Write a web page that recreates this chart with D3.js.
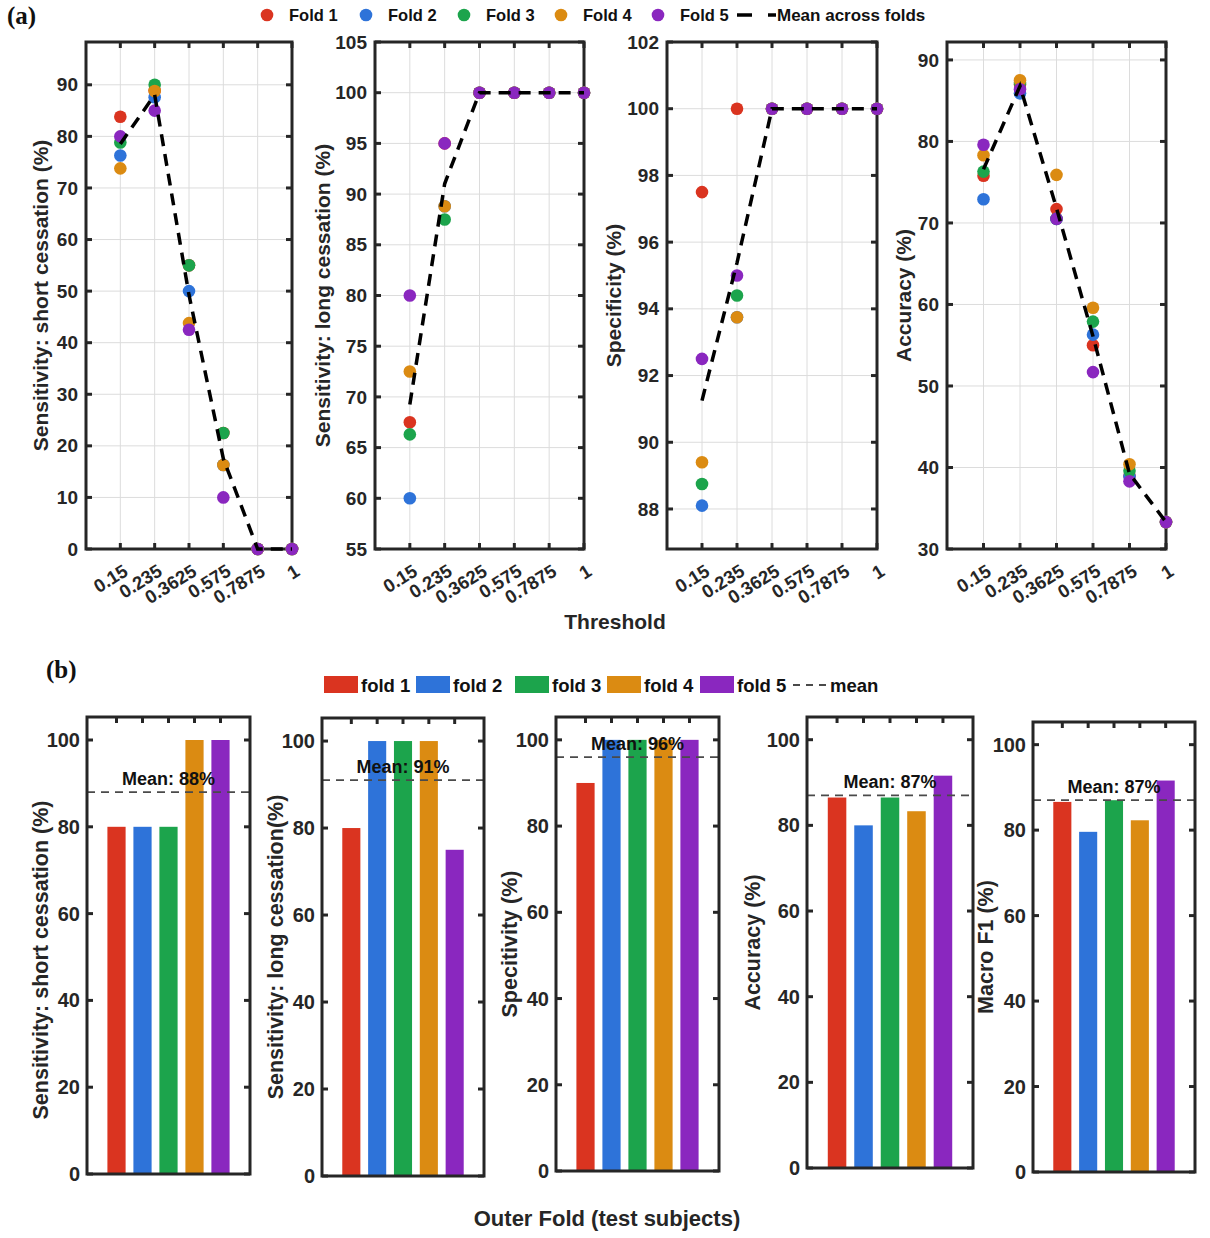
<!DOCTYPE html>
<html>
<head>
<meta charset="utf-8">
<script src="https://cdn.jsdelivr.net/npm/d3@7"></script>
<style>
  body { margin: 0; background: #fff; }
  text { font-family: "Liberation Sans", Arial, sans-serif; }
</style>
</head>
<body>
<svg id="chart" width="1210" height="1238"></svg>
<script>
// ---- data ----
var thresholds = ["0.15", "0.235", "0.3625", "0.575", "0.7875", "1"];
var foldNames = ["Fold 1", "Fold 2", "Fold 3", "Fold 4", "Fold 5"];
var foldNamesB = ["fold 1", "fold 2", "fold 3", "fold 4", "fold 5"];
var foldColors = ["#DA3420", "#2E73D9", "#1CA44C", "#DB8B12", "#8A27BF"];

// panel (a): one row per fold, one value per threshold
var sensShortA = [
    [83.8, 88.9, 55.0, 22.5, 0, 0],
    [76.3, 87.6, 50.0, 16.3, 0, 0],
    [78.8, 90.0, 55.0, 22.5, 0, 0],
    [73.8, 88.8, 43.8, 16.3, 0, 0],
    [80.0, 85.0, 42.5, 10.0, 0, 0]
];
var sensLongA = [
    [67.5, 95.0, 100, 100, 100, 100],
    [60.0, 88.8, 100, 100, 100, 100],
    [66.3, 87.5, 100, 100, 100, 100],
    [72.5, 88.8, 100, 100, 100, 100],
    [80.0, 95.0, 100, 100, 100, 100]
];
var specA = [
    [97.5, 100, 100, 100, 100, 100],
    [88.1, 93.75, 100, 100, 100, 100],
    [88.75, 94.4, 100, 100, 100, 100],
    [89.4, 93.75, 100, 100, 100, 100],
    [92.5, 95.0, 100, 100, 100, 100]
];
var accA = [
    [75.8, 87.0, 71.7, 55.0, 39.0, 33.3],
    [72.9, 85.9, 70.5, 56.3, 38.9, 33.3],
    [76.3, 87.2, 70.5, 57.9, 39.6, 33.3],
    [78.3, 87.5, 75.9, 59.6, 40.4, 33.3],
    [79.6, 86.4, 70.5, 51.7, 38.3, 33.3]
];

// panel (b): one value per outer fold
var sensShortB = [80, 80, 80, 100, 100];
var sensLongB = [80, 100, 100, 100, 75];
var specB = [90, 100, 100, 100, 100];
var accB = [86.5, 80, 86.5, 83.3, 91.6];
var macroF1B = [86.6, 79.6, 87, 82.3, 91.6];
var meanB = [88, 91, 96, 87, 87];

var svg = d3.select("#chart");
var frameColor = "#262626";

// ---------------- panel (a) ----------------
var aTop = 42, aBottom = 549;
var aPanels = [
    { data: sensShortA, label: "Sensitivity: short cessation (%)", x0: 86, x1: 292, dom: [0, 98.3], ticks: d3.range(0, 91, 10), lx: 48 },
    { data: sensLongA, label: "Sensitivity: long cessation (%)", x0: 375, x1: 584, dom: [55, 105], ticks: d3.range(55, 106, 5), lx: 330 },
    { data: specA, label: "Specificity (%)", x0: 667, x1: 877, dom: [86.8, 102], ticks: d3.range(88, 103, 2), lx: 621 },
    { data: accA, label: "Accuracy (%)", x0: 947, x1: 1166, dom: [30, 92.2], ticks: d3.range(30, 91, 10), lx: 911 }
];

aPanels.forEach(function(p)
{
    var x = d3.scaleLinear().domain([0, thresholds.length]).range([p.x0, p.x1]);
    var y = d3.scaleLinear().domain(p.dom).range([aBottom, aTop]);
    var g = svg.append("g");

    // grid
    g.selectAll(".gx").data(thresholds).enter().append("line")
        .attr("x1", function(d, i) { return x(i + 1); })
        .attr("x2", function(d, i) { return x(i + 1); })
        .attr("y1", aTop).attr("y2", aBottom)
        .attr("stroke", "#dcdcdc").attr("stroke-width", 1);
    g.selectAll(".gy").data(p.ticks).enter().append("line")
        .attr("x1", p.x0).attr("x2", p.x1)
        .attr("y1", function(d) { return y(d); })
        .attr("y2", function(d) { return y(d); })
        .attr("stroke", "#dcdcdc").attr("stroke-width", 1);

    // frame
    g.append("rect")
        .attr("x", p.x0).attr("y", aTop)
        .attr("width", p.x1 - p.x0).attr("height", aBottom - aTop)
        .attr("fill", "none").attr("stroke", frameColor).attr("stroke-width", 3);

    // inward ticks
    thresholds.forEach(function(t, i) {
        g.append("line").attr("x1", x(i + 1)).attr("x2", x(i + 1))
            .attr("y1", aBottom).attr("y2", aBottom - 6)
            .attr("stroke", frameColor).attr("stroke-width", 3);
        g.append("line").attr("x1", x(i + 1)).attr("x2", x(i + 1))
            .attr("y1", aTop).attr("y2", aTop + 6)
            .attr("stroke", frameColor).attr("stroke-width", 3);
    });
    p.ticks.forEach(function(t) {
        g.append("line").attr("x1", p.x0).attr("x2", p.x0 + 6)
            .attr("y1", y(t)).attr("y2", y(t))
            .attr("stroke", frameColor).attr("stroke-width", 3);
        g.append("line").attr("x1", p.x1).attr("x2", p.x1 - 6)
            .attr("y1", y(t)).attr("y2", y(t))
            .attr("stroke", frameColor).attr("stroke-width", 3);
    });

    // y tick labels
    g.selectAll(".yl").data(p.ticks).enter().append("text")
        .attr("x", p.x0 - 8)
        .attr("y", function(d) { return y(d); })
        .attr("dy", "0.35em")
        .attr("text-anchor", "end")
        .attr("font-size", 19).attr("font-weight", "bold")
        .attr("fill", frameColor)
        .text(function(d) { return d; });

    // x tick labels, rotated
    g.selectAll(".xl").data(thresholds).enter().append("text")
        .attr("transform", function(d, i) { return "translate(" + (x(i + 1) + 3) + "," + (aBottom + 16) + ") rotate(-32)"; })
        .attr("text-anchor", "end")
        .attr("dy", "0.6em")
        .attr("font-size", 18.5).attr("font-weight", "bold")
        .attr("fill", frameColor)
        .text(function(d) { return d; });

    // y label
    g.append("text")
        .attr("transform", "translate(" + p.lx + "," + ((aTop + aBottom) / 2) + ") rotate(-90)")
        .attr("text-anchor", "middle")
        .attr("font-size", 21).attr("font-weight", "bold")
        .attr("fill", frameColor)
        .text(p.label);

    // fold points
    p.data.forEach(function(row, f) {
        g.selectAll(".pt" + f).data(row).enter().append("circle")
            .attr("cx", function(d, i) { return x(i + 1); })
            .attr("cy", function(d) { return y(d); })
            .attr("r", 6.3)
            .attr("fill", foldColors[f]);
    });

    // mean across folds
    var means = thresholds.map(function(t, i) {
        return d3.mean(p.data, function(row) { return row[i]; });
    });
    g.append("path")
        .datum(means)
        .attr("fill", "none")
        .attr("stroke", "#000").attr("stroke-width", 3.5)
        .attr("stroke-dasharray", "12,8")
        .attr("d", d3.line()
            .x(function(d, i) { return x(i + 1); })
            .y(function(d) { return y(d); }));
});

svg.append("text")
    .attr("x", 615).attr("y", 629)
    .attr("text-anchor", "middle")
    .attr("font-size", 21).attr("font-weight", "bold")
    .attr("fill", frameColor)
    .text("Threshold");

// legend (a)
var legA = [267, 366, 464, 561, 658];
foldNames.forEach(function(name, i) {
    svg.append("circle").attr("cx", legA[i]).attr("cy", 15).attr("r", 6.3).attr("fill", foldColors[i]);
    svg.append("text").attr("x", legA[i] + 22).attr("y", 21)
        .attr("font-size", 16.5).attr("font-weight", "bold").attr("fill", "#111")
        .text(name);
});
svg.append("line").attr("x1", 737).attr("x2", 776).attr("y1", 15).attr("y2", 15)
    .attr("stroke", "#000").attr("stroke-width", 3.5).attr("stroke-dasharray", "15,16");
svg.append("text").attr("x", 777).attr("y", 21)
    .attr("font-size", 17).attr("font-weight", "bold").attr("fill", "#111")
    .text("Mean across folds");

svg.append("text").attr("x", 7).attr("y", 24)
    .style("font-family", "'Liberation Serif', 'DejaVu Serif', serif")
    .attr("font-size", 25).attr("font-weight", "bold").attr("fill", "#111")
    .text("(a)");

// ---------------- panel (b) ----------------
var bPanels = [
    { data: sensShortB, mean: meanB[0], label: "Sensitivity: short cessation (%)", x0: 87, x1: 250, y0: 717, y1: 1174, lx: 48 },
    { data: sensLongB, mean: meanB[1], label: "Sensitivity: long cessation(%)", x0: 322, x1: 484, y0: 718, y1: 1176, lx: 283 },
    { data: specB, mean: meanB[2], label: "Specitivity (%)", x0: 556, x1: 719, y0: 717, y1: 1171, lx: 517 },
    { data: accB, mean: meanB[3], label: "Accuracy (%)", x0: 807, x1: 973, y0: 717, y1: 1168, lx: 760 },
    { data: macroF1B, mean: meanB[4], label: "Macro F1 (%)", x0: 1033, x1: 1195, y0: 722, y1: 1172, lx: 993 }
];
var bTicks = [0, 20, 40, 60, 80, 100];

bPanels.forEach(function(p, k)
{
    var x = d3.scaleBand().domain(foldNamesB).range([p.x0, p.x1])
        .paddingInner(0.3).paddingOuter(0.785);
    var y = d3.scaleLinear().domain([0, 105.3]).range([p.y1, p.y0]);
    var g = svg.append("g");

    g.selectAll(".bar").data(p.data).enter().append("rect")
        .attr("x", function(d, i) { return x(foldNamesB[i]); })
        .attr("width", x.bandwidth())
        .attr("y", function(d) { return y(d); })
        .attr("height", function(d) { return y(0) - y(d); })
        .attr("fill", function(d, i) { return foldColors[i]; });

    // mean line and label
    g.append("line")
        .attr("x1", p.x0).attr("x2", p.x1)
        .attr("y1", y(p.mean)).attr("y2", y(p.mean))
        .attr("stroke", "#4a4a4a").attr("stroke-width", 1.8)
        .attr("stroke-dasharray", "8,6");
    g.append("text")
        .attr("x", (p.x0 + p.x1) / 2).attr("y", y(p.mean) - 7)
        .attr("text-anchor", "middle")
        .attr("font-size", 18).attr("font-weight", "bold").attr("fill", "#111")
        .text("Mean: " + p.mean + "%");

    // frame
    g.append("rect")
        .attr("x", p.x0).attr("y", p.y0)
        .attr("width", p.x1 - p.x0).attr("height", p.y1 - p.y0)
        .attr("fill", "none").attr("stroke", frameColor).attr("stroke-width", 3);

    // inward ticks
    foldNamesB.forEach(function(f) {
        var cx = x(f) + x.bandwidth() / 2;
        g.append("line").attr("x1", cx).attr("x2", cx)
            .attr("y1", p.y0).attr("y2", p.y0 + 6)
            .attr("stroke", frameColor).attr("stroke-width", 3);
    });
    bTicks.forEach(function(t) {
        g.append("line").attr("x1", p.x0).attr("x2", p.x0 + 6)
            .attr("y1", y(t)).attr("y2", y(t))
            .attr("stroke", frameColor).attr("stroke-width", 3);
        g.append("line").attr("x1", p.x1).attr("x2", p.x1 - 6)
            .attr("y1", y(t)).attr("y2", y(t))
            .attr("stroke", frameColor).attr("stroke-width", 3);
    });

    g.selectAll(".yl").data(bTicks).enter().append("text")
        .attr("x", p.x0 - 7)
        .attr("y", function(d) { return y(d); })
        .attr("dy", "0.35em")
        .attr("text-anchor", "end")
        .attr("font-size", 20).attr("font-weight", "bold")
        .attr("fill", frameColor)
        .text(function(d) { return d; });

    var ly = k === 0 ? 960 : (p.y0 + p.y1) / 2;
    g.append("text")
        .attr("transform", "translate(" + p.lx + "," + ly + ") rotate(-90)")
        .attr("text-anchor", "middle")
        .attr("font-size", 21.5).attr("font-weight", "bold")
        .attr("fill", frameColor)
        .text(p.label);
});

// legend (b)
var legB = [324, 416, 515, 607, 700];
foldNamesB.forEach(function(name, i) {
    svg.append("rect").attr("x", legB[i]).attr("y", 676).attr("width", 34).attr("height", 17)
        .attr("fill", foldColors[i]);
    svg.append("text").attr("x", legB[i] + 37).attr("y", 692)
        .attr("font-size", 18.5).attr("font-weight", "bold").attr("fill", "#111")
        .text(name);
});
svg.append("line").attr("x1", 793).attr("x2", 826).attr("y1", 685).attr("y2", 685)
    .attr("stroke", "#4a4a4a").attr("stroke-width", 1.8).attr("stroke-dasharray", "7,6");
svg.append("text").attr("x", 830).attr("y", 692)
    .attr("font-size", 18.5).attr("font-weight", "bold").attr("fill", "#111")
    .text("mean");

svg.append("text").attr("x", 46).attr("y", 678)
    .style("font-family", "'Liberation Serif', 'DejaVu Serif', serif")
    .attr("font-size", 25).attr("font-weight", "bold").attr("fill", "#111")
    .text("(b)");

svg.append("text")
    .attr("x", 607).attr("y", 1226)
    .attr("text-anchor", "middle")
    .attr("font-size", 22).attr("font-weight", "bold")
    .attr("fill", frameColor)
    .text("Outer Fold (test subjects)");
</script>
</body>
</html>
